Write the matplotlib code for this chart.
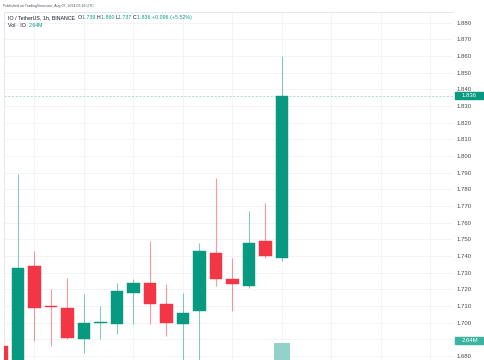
import matplotlib
matplotlib.use("Agg")
import matplotlib.pyplot as plt
from matplotlib.patches import Rectangle
from matplotlib.transforms import blended_transform_factory

# hourly IO/USDT candles, index -1 is cut by the left edge
idx = list(range(-1, 17))
opens = [1.686, 1.672, 1.734, 1.710, 1.709, 1.690, 1.700, 1.699, 1.718, 1.724, 1.711, 1.699, 1.707, 1.742, 1.726, 1.722, 1.749, 1.739]
highs = [1.686, 1.789, 1.743, 1.720, 1.727, 1.717, 1.710, 1.724, 1.726, 1.749, 1.723, 1.718, 1.748, 1.787, 1.739, 1.767, 1.772, 1.860]
lows = [1.665, 1.668, 1.689, 1.686, 1.690, 1.682, 1.690, 1.693, 1.699, 1.699, 1.692, 1.675, 1.675, 1.722, 1.707, 1.721, 1.739, 1.737]
closes = [1.670, 1.733, 1.709, 1.7095, 1.691, 1.700, 1.7003, 1.719, 1.724, 1.711, 1.700, 1.706, 1.743, 1.726, 1.723, 1.748, 1.740, 1.836]
volumes = [0.9e6, 1.7e6, 1.1e6, 0.6e6, 0.8e6, 0.7e6, 0.4e6, 0.7e6, 0.5e6, 0.8e6, 0.6e6, 0.7e6, 1.3e6, 1.2e6, 0.5e6, 0.9e6, 0.6e6, 2.64e6]
price_ticks = [1.68 + 0.01 * k for k in range(21)]
grid_x = [1, 4, 7, 10, 13, 16, 19, 22, 25]

GREEN = "#089981"
RED = "#f23645"
W, H = 485, 360

plt.rcParams["font.family"] = ["Liberation Sans", "DejaVu Sans"]
fig = plt.figure(figsize=(W / 100, H / 100), dpi=100)
fig.patch.set_facecolor("white")

ax = fig.add_axes([4 / W, 0, 449 / W, 348 / H])
ax.set_xlim(-0.848, -0.848 + 449 / 16.5)
ax.set_ylim(1.6776, 1.8864)

# volume on a twin axis, only the tall last bar reaches the visible area
ax2 = ax.twinx()
ax2.set_ylim(2.0e6, 2.0e6 + 0.64e6 * 348 / 16.7)
ax2.bar(idx, volumes, width=0.97, color="#92d2c9", zorder=1)
ax2.set_yticks([])
for s in ax2.spines.values():
    s.set_visible(False)

for s in ["right", "bottom"]:
    ax.spines[s].set_visible(False)
for s in ["top", "left"]:
    ax.spines[s].set_color("#e0e3eb")
    ax.spines[s].set_linewidth(0.6)

ax.set_yticks(price_ticks)
ax.set_yticklabels(["%.3f" % p for p in price_ticks])
ax.yaxis.tick_right()
ax.tick_params(axis="y", left=False, right=False, labelleft=False, labelright=True,
               length=0, pad=2.5, labelsize=4.3, labelcolor="#4a4a4a")
ax.set_xticks(grid_x)
ax.tick_params(axis="x", length=0, labelbottom=False)
ax.grid(True, color="#f1f3f7", lw=0.6)
ax.set_axisbelow(True)

# candles
for i, o, h, l, c in zip(idx, opens, highs, lows, closes):
    col = GREEN if c >= o else RED
    ax.vlines(i, l, h, color=col, alpha=0.5, lw=0.8, zorder=2)
    body = max(abs(c - o), 0.0007)
    ax.bar(i, body, bottom=min(o, c), width=0.76, color=col,
           edgecolor=col, linewidth=0.3, zorder=3)

# last price line
last = closes[-1]
ax.axhline(last, color="#9fd8cf", lw=0.6, ls=(0, (2.5, 2)), zorder=1)

# price tags on the axis
tr = blended_transform_factory(ax.transAxes, ax.transData)
x0 = 2 / 449 + 1
x1 = 31 / 449 + 1
ph = 7 / 348 * (1.8864 - 1.6776)
ax.add_patch(Rectangle((x0, last - ph / 2), x1 - x0, ph, transform=tr,
                       color=GREEN, clip_on=False, zorder=10))
ax.text((x0 + x1) / 2, last, "%.3f" % last, transform=tr, color="white",
        fontsize=4.3, ha="center", va="center", clip_on=False, zorder=11)

tr2 = blended_transform_factory(ax2.transAxes, ax2.transData)
vlo, vhi = ax2.get_ylim()
vh = 6.5 / 348 * (vhi - vlo)
vy = volumes[-1] + 0.1e6
ax2.add_patch(Rectangle((x0, vy - vh / 2), x1 - x0, vh, transform=tr2,
                        color="#3db4a1", clip_on=False, zorder=10))
ax2.text((x0 + x1) / 2, vy, "2.64M", transform=tr2, color="white",
         fontsize=4.3, ha="center", va="center", clip_on=False, zorder=11)

# header texts
fig.text(3 / W, 1 - 6 / H, "Published on TradingView.com, Aug 07, 2024 06:16 UTC",
         fontsize=2.6, color="#50535e", va="center")

pieces = [("O", "#131722"), ("%.3f " % opens[-1], GREEN),
          ("H", "#131722"), ("%.3f " % highs[-1], GREEN),
          ("L", "#131722"), ("%.3f " % lows[-1], GREEN),
          ("C", "#131722"), ("%.3f " % closes[-1], GREEN),
          ("+0.096 (+5.52%)", GREEN)]

# chain pieces so each starts where the previous one ends
prev = fig.text(8 / W, 1 - 19.3 / H, "IO / TetherUS, 1h, BINANCE  ", fontsize=3.8,
                color="#131722", va="baseline")
for s, col in pieces:
    prev = ax.annotate(s, xy=(1, 0), xycoords=prev, va="bottom", fontsize=3.8,
                       color=col, annotation_clip=False)

v1 = fig.text(8 / W, 1 - 26.8 / H, "Vol · IO  ", fontsize=3.8, color="#131722", va="baseline")
ax.annotate("2.64M", xy=(1, 0), xycoords=v1, va="bottom", fontsize=3.8,
            color=GREEN, annotation_clip=False)

fig.savefig("out.png", dpi=100)
